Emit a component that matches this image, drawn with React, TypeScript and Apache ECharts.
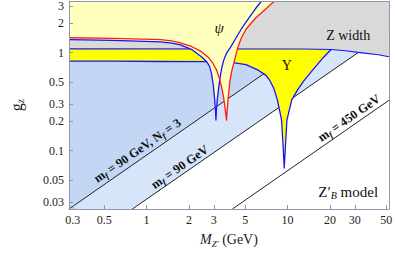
import React, { useEffect, useRef } from "react";
import * as echarts from "echarts";

// ---- axes ----
const X_TICKS = [0.3, 0.5, 1, 2, 3, 5, 10, 20, 30, 50];
const Y_TICKS = [0.03, 0.05, 0.1, 0.2, 0.3, 0.5, 1, 2, 3];
const X_RANGE = [0.2817, 52.3];
const Y_RANGE = [0.0253, 3.36];

// ---- curves: [M_Z' (GeV), g_z] ----
const jpsiCurve = [
  [0.2817, 1.357], [0.582, 1.335], [1.261, 1.289], [1.5, 1.255], [1.718, 1.207], [2.099, 1.073],
  [2.451, 0.91], [2.648, 0.819], [2.795, 0.728], [2.883, 0.618], [2.973, 0.466],
  [3.042, 0.3275], [3.08, 0.259], [3.104, 0.205], [3.128, 0.259], [3.17, 0.3275],
  [3.23, 0.414], [3.3, 0.524], [3.41, 0.695], [3.524, 0.839], [3.69, 0.988],
  [3.926, 1.125], [4.275, 1.39], [4.69, 1.737], [5.068, 2.048], [5.913, 2.811], [6.692, 3.515],
];
const psi2sCurve = [
  [0.2817, 1.422], [0.582, 1.399], [1.261, 1.357], [1.5, 1.32], [1.718, 1.265], [2.099, 1.151],
  [2.451, 1.024], [2.731, 0.9], [2.95, 0.781], [3.138, 0.663], [3.287, 0.549],
  [3.417, 0.434], [3.524, 0.343], [3.617, 0.259], [3.69, 0.205], [3.73, 0.259],
  [3.78, 0.3275], [3.84, 0.414], [3.91, 0.524], [4.03, 0.663], [4.209, 0.839],
  [4.443, 1.138], [4.69, 1.406], [5.068, 1.737], [5.913, 2.249], [6.903, 2.747],
  [8.18, 3.434], [8.837, 3.771],
];
const upsilonCurve = [
  [0.2817, 0.819], [0.582, 0.819], [1.261, 0.813], [2.731, 0.809], [3.9, 0.8],
  [5.07, 0.754], [6.19, 0.663], [7.0, 0.59], [7.46, 0.524], [8.0, 0.43], [8.47, 0.3275],
  [9.07, 0.205], [9.3, 0.109], [9.47, 0.0663], [9.65, 0.109], [9.89, 0.205],
  [10.69, 0.3275], [11.8, 0.42], [13.15, 0.524], [15.73, 0.716], [18.0, 0.9],
  [20.35, 1.078], [22.3, 1.25],
];
const zWidthCurve = [
  [0.2817, 1.093], [12.8, 1.091], [20.35, 1.078], [25.7, 1.048], [33.9, 0.995],
  [44.1, 0.954], [52.3, 0.91],
];
const mf90Nf3Line = [[0.2817, 0.0253], [60, 5.39]];
const mf90Line = [[0.2817, 0.009], [60, 1.9]];
const mf450Line = [[4.06, 0.0253], [60, 0.374]];

// label anchors [M, g]
const psiLabelAt = [3.27, 1.78];
const upsLabelAt = [9.89, 0.746];
const zWidthLabelAt = [26.9, 1.51];
const modelLabelAt = [26.9, 0.038];
const nf3LabelAt = [0.86, 0.1];
const mf90LabelAt = [1.72, 0.068];
const mf450LabelAt = [27.3, 0.215];

const SERIF = '"Liberation Serif", "Times New Roman", serif';
const BLUE = "#1414ff";
const RED = "#ff1a1a";
const AXIS = "#8b98b0";

// drawing order (bottom to top): regions are "g above the curve"
const LAYERS: { data: number[][]; fill?: string; stroke?: string; width?: number }[] = [
  { data: mf90Line, fill: "#d6e5fa" },
  { data: mf90Nf3Line, fill: "#c3d7f5" },
  { data: mf450Line, stroke: "#222", width: 1 },
  { data: mf90Line, stroke: "#222", width: 1 },
  { data: mf90Nf3Line, stroke: "#222", width: 1 },
  { data: upsilonCurve, fill: "#ffff00" },
  { data: upsilonCurve, stroke: BLUE, width: 1.3 },
  { data: zWidthCurve, fill: "#d9d9d9" },
  { data: zWidthCurve, stroke: BLUE, width: 1.1 },
  { data: jpsiCurve, fill: "#ffffbe" },
  { data: psi2sCurve, fill: "#ffffbe" },
  { data: jpsiCurve, stroke: BLUE, width: 1.3 },
  { data: psi2sCurve, stroke: RED, width: 1.3 },
];

const fmt = (ticks: number[]) => (v: number) => {
  const t = ticks.find((t) => Math.abs(Math.log10(t) - Math.log10(v)) < 1e-4);
  return t === undefined ? "" : String(t);
};

export default function App() {
  const ref = useRef<HTMLDivElement>(null);
  useEffect(() => {
    const chart = echarts.init(ref.current!, undefined, { renderer: "svg" });
    const baseAxis = {
      type: "log",
      logBase: 10,
      z: 10,
      splitLine: { show: false },
      axisLine: { show: true, lineStyle: { color: AXIS, width: 1 } },
      axisTick: { show: true, inside: true, length: 4, lineStyle: { color: AXIS } },
    };
    chart.setOption({
      animation: false,
      backgroundColor: "#ffffff",
      grid: { left: 53, right: 4, top: 1, bottom: 44 },
      xAxis: [
        {
          ...baseAxis,
          min: X_RANGE[0],
          max: X_RANGE[1],
          axisTick: { ...baseAxis.axisTick, customValues: X_TICKS },
          axisLabel: {
            customValues: X_TICKS,
            formatter: fmt(X_TICKS),
            fontFamily: SERIF,
            fontSize: 12,
            color: "#222",
            margin: 5,
          },
          name: "{i|M}{s|Z′}{n| (GeV)}",
          nameLocation: "middle",
          nameGap: 21,
          nameTextStyle: {
            rich: {
              i: { fontFamily: SERIF, fontSize: 14, fontStyle: "italic", color: "#222", lineHeight: 18 },
              s: { fontFamily: SERIF, fontSize: 9, fontStyle: "italic", color: "#222", lineHeight: 10, verticalAlign: "bottom" },
              n: { fontFamily: SERIF, fontSize: 14, color: "#222", lineHeight: 18 },
            },
          },
        },
        {
          ...baseAxis,
          position: "top",
          min: X_RANGE[0],
          max: X_RANGE[1],
          axisTick: { show: false },
          axisLabel: { show: false },
        },
      ],
      yAxis: [
        {
          ...baseAxis,
          min: Y_RANGE[0],
          max: Y_RANGE[1],
          axisTick: { ...baseAxis.axisTick, customValues: Y_TICKS },
          axisLabel: {
            customValues: Y_TICKS,
            formatter: fmt(Y_TICKS),
            fontFamily: SERIF,
            fontSize: 12,
            color: "#222",
            margin: 5,
          },
          name: "{i|g}{s|z}",
          nameLocation: "middle",
          nameRotate: 90,
          nameGap: 44,
          nameTextStyle: {
            rich: {
              i: { fontFamily: SERIF, fontSize: 16, color: "#222", lineHeight: 18 },
              s: { fontFamily: SERIF, fontSize: 10, color: "#222", lineHeight: 10, verticalAlign: "bottom" },
            },
          },
        },
        {
          ...baseAxis,
          position: "right",
          min: Y_RANGE[0],
          max: Y_RANGE[1],
          axisTick: { show: false },
          axisLabel: { show: false },
        },
      ],
      series: [
        {
          type: "custom",
          coordinateSystem: "cartesian2d",
          xAxisIndex: 0,
          yAxisIndex: 0,
          clip: true,
          silent: true,
          data: [[1, 1]],
          encode: { x: 0, y: 1 },
          renderItem: (_params: any, api: any) => {
            const top = Y_RANGE[1];
            const children = LAYERS.map((l) => {
              const pts = l.data.map((p) => api.coord(p));
              if (l.fill) {
                const first = l.data[0];
                const last = l.data[l.data.length - 1];
                pts.push(api.coord([last[0], top]), api.coord([first[0], top]));
                return { type: "polygon", shape: { points: pts }, style: { fill: l.fill } };
              }
              return {
                type: "polyline",
                shape: { points: pts },
                style: { stroke: l.stroke, lineWidth: l.width, fill: null, lineJoin: "round" },
              };
            });
            return { type: "group", children };
          },
        },
      ],
    });

    const px = (d: number[]) => chart.convertToPixel({ gridIndex: 0 }, d) as number[];
    const a = px(mf90Line[0]);
    const b = px(mf90Line[1]);
    const rot = Math.atan2(a[1] - b[1], b[0] - a[0]);
    const diagRich = {
      m: { fontFamily: SERIF, fontSize: 12.5, fontWeight: "bold", fill: "#111", lineHeight: 15 },
      s: { fontFamily: SERIF, fontSize: 8.5, fontWeight: "bold", fontStyle: "italic", fill: "#111", lineHeight: 9, verticalAlign: "bottom" },
    };
    const txt = (at: number[], text: string, rich: any, rotation = 0) => {
      const p = px(at);
      return {
        type: "text",
        x: p[0],
        y: p[1],
        rotation,
        z: 100,
        silent: true,
        style: { text, rich, align: "center", verticalAlign: "middle", fill: "#111" },
      };
    };
    chart.setOption({
      graphic: [
        txt(psiLabelAt, "{a|ψ}", { a: { fontFamily: SERIF, fontSize: 15, fontStyle: "italic", fill: "#111" } }),
        txt(upsLabelAt, "{a|Υ}", { a: { fontFamily: SERIF, fontSize: 14, fill: "#111" } }),
        txt(zWidthLabelAt, "{a|Z width}", { a: { fontFamily: SERIF, fontSize: 14, fill: "#111" } }),
        txt(modelLabelAt, "{a|Z′}{s|B}{a| model}", {
          a: { fontFamily: SERIF, fontSize: 15, fill: "#111", lineHeight: 18 },
          s: { fontFamily: SERIF, fontSize: 10, fontStyle: "italic", fill: "#111", lineHeight: 10, verticalAlign: "bottom" },
        }),
        txt(nf3LabelAt, "{m|m}{s|f}{m| = 90 GeV, N}{s|f}{m| = 3}", diagRich, rot),
        txt(mf90LabelAt, "{m|m}{s|f}{m| = 90 GeV}", diagRich, rot),
        txt(mf450LabelAt, "{m|m}{s|f}{m| = 450 GeV}", diagRich, rot),
      ],
    });
    return () => chart.dispose();
  }, []);
  return (
    <div
      ref={ref}
      style={{ position: "fixed", left: 0, top: 0, width: 395, height: 253, background: "#fff" }}
    />
  );
}
